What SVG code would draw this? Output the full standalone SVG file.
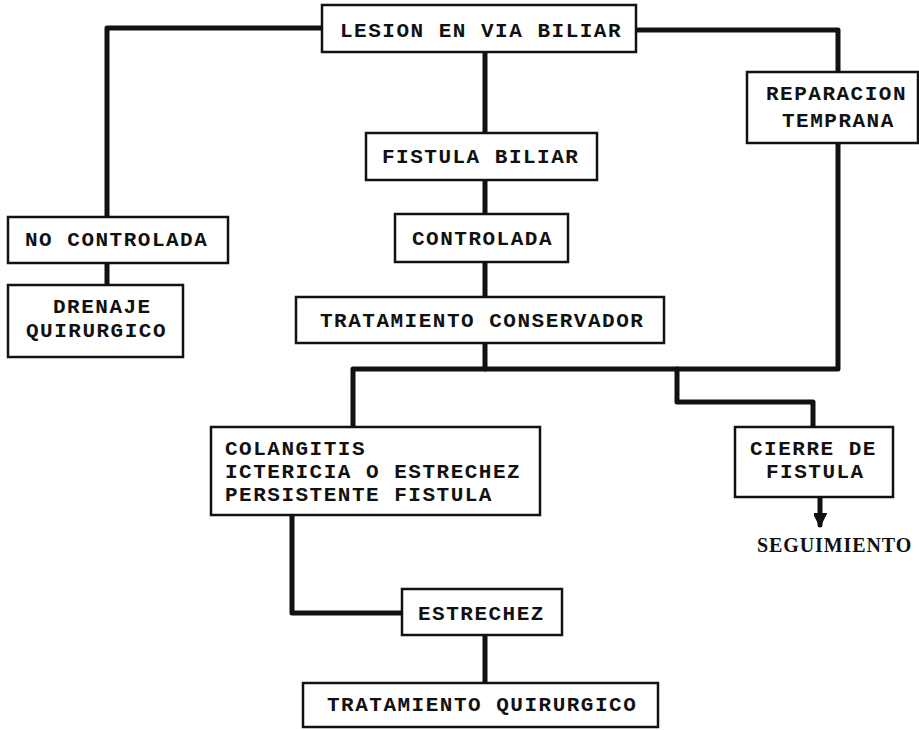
<svg xmlns="http://www.w3.org/2000/svg" width="919" height="730" viewBox="0 0 919 730">
<style>
.box{fill:#fff;stroke:#111;stroke-width:2.5}
.t{font-family:"Liberation Mono","Courier New",monospace;font-size:21px;font-weight:bold;letter-spacing:1.5px;fill:#111}
.c{fill:none;stroke:#111;stroke-width:5;stroke-linejoin:round;stroke-linecap:round}
.s{font-family:"Liberation Serif","Times New Roman",serif;font-size:20px;font-weight:bold;letter-spacing:0.9px;fill:#111}
</style>
<defs>
<marker id="ah" viewBox="0 0 10 10" refX="9" refY="5" markerWidth="13" markerHeight="13" markerUnits="userSpaceOnUse" orient="auto">
<path d="M0,0 L10,5 L0,10 Z" fill="#111" stroke="#111" stroke-width="1" stroke-linejoin="round"/>
</marker>
</defs>
<rect width="919" height="730" fill="#fff"/>
<g id="connectors">
<path class="c" d="M321 28 H107 V217"/>
<path class="c" d="M636 30 H838 V72"/>
<path class="c" d="M485 52 V133"/>
<path class="c" d="M485 180 V213"/>
<path class="c" d="M485 262 V297"/>
<path class="c" d="M485 343 V369"/>
<path class="c" d="M838 143 V369 H353 V427"/>
<path class="c" d="M677 369 V402 H813 V427"/>
<path class="c" d="M107 263 V285"/>
<path class="c" d="M292 515 V613 H402"/>
<path class="c" d="M485 635 V683"/>
<path class="c" d="M820 497 V525" marker-end="url(#ah)"/>
</g>
<g id="lesion"><rect class="box" x="322" y="5" width="314" height="47"/><text class="t" x="340" y="37">LESION EN VIA BILIAR</text></g>
<g id="fistula"><rect class="box" x="366" y="133" width="231" height="47"/><text class="t" x="382" y="163">FISTULA BILIAR</text></g>
<g id="controlada"><rect class="box" x="395" y="214" width="173" height="48"/><text class="t" x="412" y="245">CONTROLADA</text></g>
<g id="conservador"><rect class="box" x="296" y="297" width="368" height="46"/><text class="t" x="320" y="327">TRATAMIENTO CONSERVADOR</text></g>
<g id="nocontrolada"><rect class="box" x="8" y="217" width="220" height="46"/><text class="t" x="25" y="246">NO CONTROLADA</text></g>
<g id="drenaje"><rect class="box" x="8" y="285" width="175" height="72"/><text class="t" x="53" y="313">DRENAJE</text><text class="t" x="26" y="337">QUIRURGICO</text></g>
<g id="reparacion"><rect class="box" x="747" y="72" width="171" height="71"/><text class="t" x="766" y="100">REPARACION</text><text class="t" x="782" y="127">TEMPRANA</text></g>
<g id="colangitis"><rect class="box" x="211" y="427" width="329" height="88"/><text class="t" x="225" y="455">COLANGITIS</text><text class="t" x="225" y="478">ICTERICIA O ESTRECHEZ</text><text class="t" x="225" y="501">PERSISTENTE FISTULA</text></g>
<g id="cierre"><rect class="box" x="735" y="427" width="158" height="70"/><text class="t" x="750" y="455">CIERRE DE</text><text class="t" x="766" y="478">FISTULA</text></g>
<g id="seguimiento"><text class="s" x="757" y="552">SEGUIMIENTO</text></g>
<g id="estrechez"><rect class="box" x="402" y="589" width="160" height="46"/><text class="t" x="418" y="620">ESTRECHEZ</text></g>
<g id="quirurgico"><rect class="box" x="303" y="683" width="355" height="44"/><text class="t" x="327" y="711">TRATAMIENTO QUIRURGICO</text></g>
</svg>
